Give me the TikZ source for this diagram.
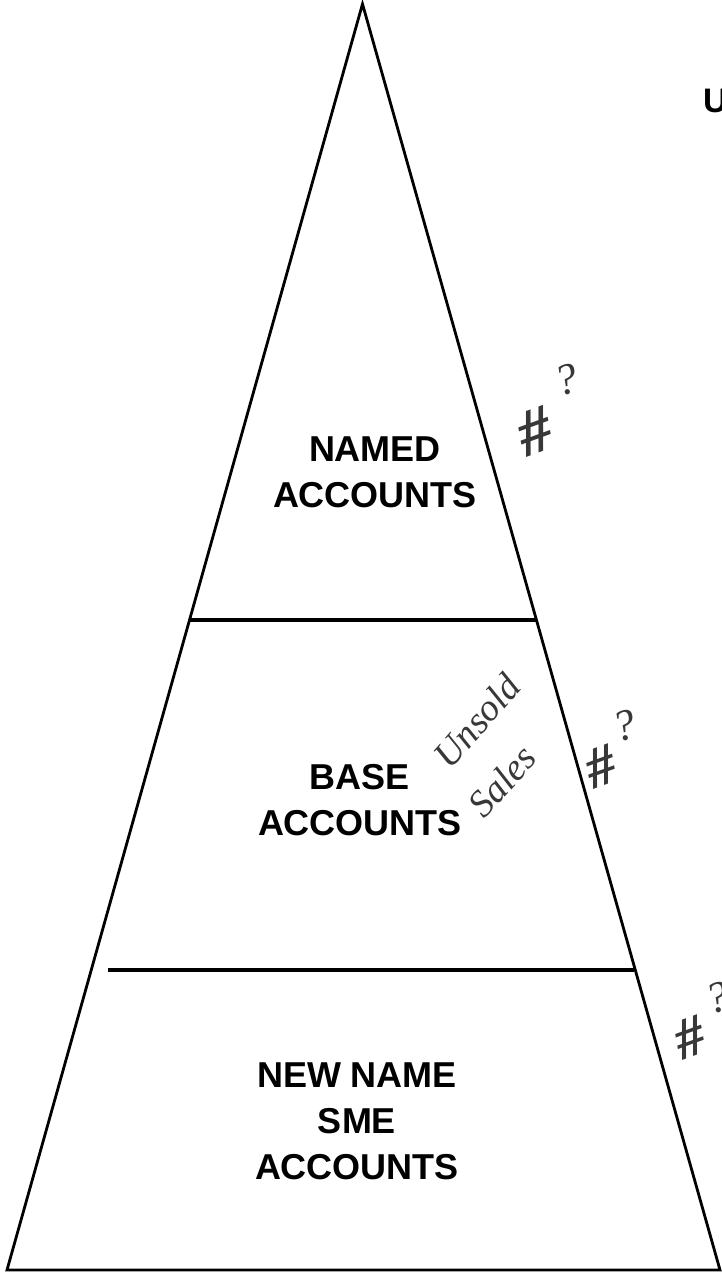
\documentclass[tikz,border=0pt]{standalone}
\usepackage{fontspec}
\setmainfont{Liberation Sans}
\newfontfamily\hand{Liberation Serif}
\begin{document}
\begin{tikzpicture}[x=1pt,y=-1pt,
  edge/.style={line width=2.8pt, line join=miter},
  divider/.style={line width=3.2pt},
  tier/.style={font=\fontsize{36}{46}\selectfont\bfseries, align=center, anchor=base, inner sep=0pt},
  scrawl/.style={text=black!78, inner sep=0pt}]
\useasboundingbox (0,0) rectangle (722,1275);
\clip (0,0) rectangle (722,1275);

% pyramid outline
\coordinate (apex) at (362.5,4);
\coordinate (bl) at (7,1270);
\coordinate (br) at (720,1270);
\draw[edge] (apex) -- (br) -- (bl) -- cycle;

% tier dividers
\coordinate (d1l) at (189,620);
\coordinate (d1r) at (537,620);
\coordinate (d2l) at (108,970);
\coordinate (d2r) at (634,970);
\draw[divider] (d1l) -- (d1r);
\draw[divider] (d2l) -- (d2r);

% tier labels (anchored on the baseline of the last line)
\node[tier] (named) at (375,507) {NAMED\\ACCOUNTS};
\node[tier] (base) at (360,835) {BASE\\ACCOUNTS};
\node[tier] (newname) at (357,1179) {NEW NAME\\SME\\ACCOUNTS};

% cut-off heading at the right margin
\node[font=\fontsize{34}{40}\selectfont\bfseries, anchor=base west, inner sep=0pt] (head) at (703,112) {U};

% pen notes
\node[scrawl, font=\hand\itshape\fontsize{38}{40}\selectfont, rotate=49] (unsold) at (477,721) {Unsold};
\node[scrawl, font=\hand\itshape\fontsize{38}{40}\selectfont, rotate=48] (sales) at (502,781) {Sales};

\node[scrawl, font=\hand\bfseries\itshape\fontsize{66}{70}\selectfont, rotate=20] (hash1) at (535,432) {\#};
\node[scrawl, font=\hand\itshape\fontsize{44}{48}\selectfont, rotate=15] (q1) at (566,380) {?};
\node[scrawl, font=\hand\bfseries\itshape\fontsize{58}{62}\selectfont, rotate=20] (hash2) at (601,767) {\#};
\node[scrawl, font=\hand\itshape\fontsize{44}{48}\selectfont, rotate=15] (q2) at (624,726) {?};
\node[scrawl, font=\hand\bfseries\itshape\fontsize{58}{62}\selectfont, rotate=20] (hash3) at (690,1038) {\#};
\node[scrawl, font=\hand\itshape\fontsize{44}{48}\selectfont, rotate=15] (q3) at (717,998) {?};
\end{tikzpicture}
\end{document}
